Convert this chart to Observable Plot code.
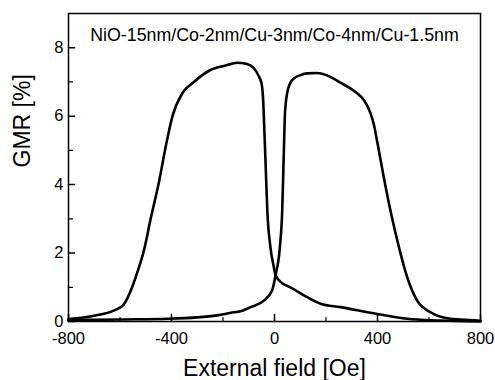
<!DOCTYPE html>
<html>
<head>
<meta charset="utf-8">
<script src="https://cdn.jsdelivr.net/npm/d3@7"></script>
<script src="https://cdn.jsdelivr.net/npm/@observablehq/plot@0.6"></script>
<style>
  html, body { margin: 0; padding: 0; background: #fff; }
  #chart svg { display: block; }
</style>
</head>
<body>
<div id="chart"></div>
<script>
// Left-peak branch (field swept from + to -)
const leftBranchField = [-800, -700, -620, -585, -553, -530, -507, -481, -448, -420, -397, -358, -313, -249, -190, -145, -110, -80, -60, -50, -44, -39, -35, -28, -16, -3, 4, 30, 62, 127, 179, 256, 399, 515, 643, 800];
const leftBranchGMR   = [0.07, 0.17, 0.33, 0.50, 1.00, 1.50, 2.08, 3.00, 4.10, 5.20, 5.98, 6.67, 7.00, 7.35, 7.48, 7.56, 7.53, 7.40, 7.15, 6.95, 6.47, 5.50, 4.70, 3.25, 2.18, 1.60, 1.35, 1.12, 1.00, 0.71, 0.52, 0.42, 0.22, 0.08, 0.03, 0.00];

// Right-peak branch (field swept from - to +)
const rightBranchField = [-800, -600, -417, -300, -223, -158, -132, -93, -41, -9, 4, 21, 30, 35, 40, 44, 49, 60, 75, 101, 127, 165, 217, 256, 295, 321, 347, 373, 386, 399, 424, 450, 483, 515, 554, 606, 683, 787, 800];
const rightBranchGMR   = [0.04, 0.06, 0.08, 0.12, 0.18, 0.27, 0.30, 0.42, 0.61, 0.91, 1.35, 2.18, 3.25, 4.60, 5.98, 6.40, 6.67, 6.95, 7.10, 7.20, 7.25, 7.26, 7.15, 6.98, 6.81, 6.67, 6.47, 6.08, 5.75, 5.25, 4.23, 3.25, 2.18, 1.30, 0.61, 0.27, 0.08, 0.03, 0.02];

const xMajorTicks = [-800, -400, 0, 400, 800];
const xMinorTicks = [-600, -200, 200, 600];
const yMajorTicks = [0, 2, 4, 6, 8];
const yMinorTicks = [1, 3, 5, 7];

const xLabel = "External field [Oe]";
const yLabel = "GMR [%]";
const annotation = "NiO-15nm/Co-2nm/Cu-3nm/Co-4nm/Cu-1.5nm";

const leftBranch = leftBranchField.map((x, i) => ({x, y: leftBranchGMR[i]}));
const rightBranch = rightBranchField.map((x, i) => ({x, y: rightBranchGMR[i]}));

const font = "'Liberation Sans', Arial, Helvetica, sans-serif";

// inward tick shapes for vector marks
const tickUp = {draw(ctx, l) { ctx.moveTo(0, 0); ctx.lineTo(0, -l); }};
const tickRight = {draw(ctx, l) { ctx.moveTo(0, 0); ctx.lineTo(l, 0); }};

const chart = Plot.plot({
  width: 495,
  height: 380,
  marginLeft: 68,
  marginRight: 15,
  marginTop: 13,
  marginBottom: 59,
  style: {fontFamily: font, color: "#000", background: "#fff"},
  x: {domain: [-800, 800]},
  y: {domain: [0, 9]},
  marks: [
    Plot.frame({stroke: "#000", strokeWidth: 1.5}),
    Plot.line(leftBranch, {x: "x", y: "y", curve: "monotone-x", stroke: "#000", strokeWidth: 2.6}),
    Plot.line(rightBranch, {x: "x", y: "y", curve: "monotone-x", stroke: "#000", strokeWidth: 2.6}),
    // inward ticks
    Plot.vector(xMajorTicks, {x: d => d, frameAnchor: "bottom", length: 7, anchor: "start", shape: tickUp, stroke: "#000", strokeWidth: 1.5}),
    Plot.vector(xMinorTicks, {x: d => d, frameAnchor: "bottom", length: 4, anchor: "start", shape: tickUp, stroke: "#000", strokeWidth: 1.2}),
    Plot.vector(yMajorTicks, {y: d => d, frameAnchor: "left", length: 6, anchor: "start", shape: tickRight, stroke: "#000", strokeWidth: 1.5}),
    Plot.vector(yMinorTicks, {y: d => d, frameAnchor: "left", length: 4, anchor: "start", shape: tickRight, stroke: "#000", strokeWidth: 1.2}),
    // tick labels
    Plot.axisX({ticks: xMajorTicks, tickSize: 0, tickPadding: 11, fontSize: 16.5, tickFormat: d => String(d), label: null}),
    Plot.axisY({ticks: yMajorTicks, tickSize: 0, tickPadding: 5, fontSize: 16.5, tickFormat: d => String(d), label: null}),
    Plot.text([annotation], {frameAnchor: "top", lineAnchor: "middle", dy: 22, fontSize: 17.8, fill: "#000"}),
    Plot.text([xLabel], {frameAnchor: "bottom", lineAnchor: "middle", dy: 47, fontSize: 23, fill: "#000"}),
    Plot.text([yLabel], {frameAnchor: "left", lineAnchor: "middle", dx: -46, rotate: -90, fontSize: 23, fill: "#000"})
  ]
});
document.getElementById("chart").appendChild(chart);
</script>
</body>
</html>
